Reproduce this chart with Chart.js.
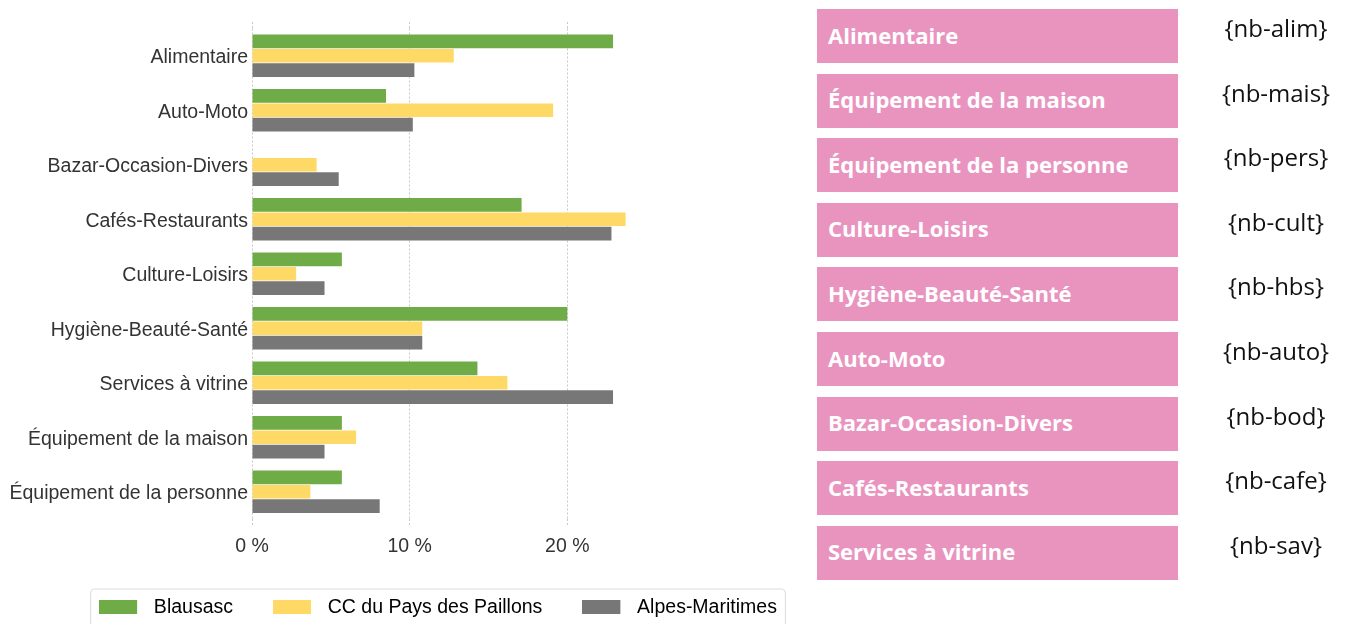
<!DOCTYPE html>
<html>
<head>
<meta charset="utf-8">
<script src="https://cdn.jsdelivr.net/npm/chart.js@4/dist/chart.umd.min.js"></script>
<style>
body { margin: 0; width: 1359px; height: 624px; overflow: hidden; background: #fff; position: relative; }
#myChart { position: absolute; left: 0; top: 0; }
.box {
    position: absolute; left: 817px; width: 361px; height: 54px;
    background: #e994bf; color: #fff;
    font: 700 22px "Open Sans", sans-serif;
    display: flex; align-items: center; box-sizing: border-box; padding: 0 0 3px 11px;
}
.nb {
    position: absolute; left: 1176px; width: 200px; text-align: center;
    font: 400 24px "Open Sans", sans-serif; color: #111;
}
</style>
</head>
<body>
<canvas id="myChart" width="876" height="627"></canvas>
<div id="list"></div>
<script>
// chart data
const categories = ['Alimentaire', 'Auto-Moto', 'Bazar-Occasion-Divers', 'Cafés-Restaurants', 'Culture-Loisirs',
    'Hygiène-Beauté-Santé', 'Services à vitrine', 'Équipement de la maison', 'Équipement de la personne'];
const seriesNames = ['Blausasc', 'CC du Pays des Paillons', 'Alpes-Maritimes'];
const blausasc = [22.9, 8.5, 0, 17.1, 5.7, 20.0, 14.3, 5.7, 5.7];
const paillons = [12.8, 19.1, 4.1, 23.7, 2.8, 10.8, 16.2, 6.6, 3.7];
const alpes = [10.3, 10.2, 5.5, 22.8, 4.6, 10.8, 22.9, 4.6, 8.1];
const colors = ['#6fab46', '#ffd966', '#777777'];
const tickValues = [0, 10, 20];

// list on the right
const listLabels = ['Alimentaire', 'Équipement de la maison', 'Équipement de la personne', 'Culture-Loisirs',
    'Hygiène-Beauté-Santé', 'Auto-Moto', 'Bazar-Occasion-Divers', 'Cafés-Restaurants', 'Services à vitrine'];
const listCodes = ['{nb-alim}', '{nb-mais}', '{nb-pers}', '{nb-cult}', '{nb-hbs}', '{nb-auto}', '{nb-bod}', '{nb-cafe}', '{nb-sav}'];

const list = document.getElementById('list');
for (let i = 0; i < listLabels.length; i++) {
    const top = 9 + i * 64.6;
    const b = document.createElement('div');
    b.className = 'box';
    b.style.top = top + 'px';
    b.textContent = listLabels[i];
    list.appendChild(b);
    const n = document.createElement('div');
    n.className = 'nb';
    n.style.top = (top + 2) + 'px';
    n.textContent = listCodes[i];
    list.appendChild(n);
}

// legend swatch: 38x14 rect inside a 45px wide image
function swatch(color) {
    const c = document.createElement('canvas');
    c.width = 45;
    c.height = 14;
    const g = c.getContext('2d');
    g.fillStyle = color;
    g.fillRect(0, 0, 38, 14);
    return c;
}

const legendFrame = {
    id: 'legendFrame',
    afterDraw(chart) {
        const lg = chart.legend;
        if (!lg || !lg.legendHitBoxes.length) return;
        const hb = lg.legendHitBoxes;
        const last = hb[hb.length - 1];
        const x0 = hb[0].left - 9, x1 = last.left + last.width + 8;
        const y0 = hb[0].top - 9, y1 = chart.height + 5;
        const g = chart.ctx;
        g.save();
        g.strokeStyle = '#dcdcdc';
        g.lineWidth = 1;
        g.beginPath();
        g.roundRect(x0 + 0.5, y0 + 0.5, x1 - x0, y1 - y0, 4);
        g.stroke();
        g.restore();
    }
};

const font = { family: '"Liberation Sans", Arial, sans-serif', size: 19.5 };
const keepTicks = (s) => { s.ticks = s.ticks.filter(t => tickValues.includes(t.value)); };
const xmax = 39.58; // keeps 0..20 % where the reference has it

const ctx = document.getElementById('myChart');
const myChart = new Chart(ctx, {
    type: 'bar',
    data: {
        labels: categories,
        datasets: [
            { label: seriesNames[0], data: blausasc, backgroundColor: colors[0] },
            { label: seriesNames[1], data: paillons, backgroundColor: colors[1] },
            { label: seriesNames[2], data: alpes, backgroundColor: colors[2] },
        ]
    },
    options: {
        indexAxis: 'y',
        responsive: false,
        animation: false,
        categoryPercentage: 0.79,
        barPercentage: 0.95,
        layout: { padding: { left: 0, top: 22, right: 0, bottom: 0 } },
        plugins: {
            tooltip: { enabled: false },
            legend: {
                position: 'bottom',
                labels: {
                    color: '#333',
                    font: font,
                    padding: 40,
                    usePointStyle: true,
                    pointStyleWidth: 45,
                    generateLabels: (chart) => chart.data.datasets.map((d, i) => ({
                        text: d.label,
                        fillStyle: d.backgroundColor,
                        strokeStyle: d.backgroundColor,
                        lineWidth: 0,
                        pointStyle: swatch(d.backgroundColor),
                        datasetIndex: i,
                    })),
                }
            }
        },
        scales: {
            x: {
                position: 'bottom',
                min: 0,
                max: xmax,
                ticks: { stepSize: 10, padding: 8, color: '#333', font: font, callback: v => v + ' %' },
                afterBuildTicks: keepTicks,
                afterFit: s => { s.height = 38.5; },
                grid: { color: '#c8c8c8', borderDash: [2, 2], drawTicks: true, tickLength: 8, tickBorderDash: [2, 2] },
                border: { display: false, dash: [2, 2] },
            },
            x2: {
                position: 'top',
                min: 0,
                max: xmax,
                ticks: { display: false, stepSize: 10 },
                afterBuildTicks: keepTicks,
                afterFit: s => { s.height = 6.5; },
                grid: { color: '#c8c8c8', drawOnChartArea: false, drawTicks: true, tickLength: 6.5, tickBorderDash: [2, 2] },
                border: { display: false },
            },
            y: {
                ticks: { color: '#333', font: font, padding: 4, labelOffset: 2 },
                afterFit: s => { s.width = 252; },
                grid: { display: false, drawTicks: false },
                border: { display: false },
            }
        }
    },
    plugins: [legendFrame]
});
</script>
</body>
</html>
